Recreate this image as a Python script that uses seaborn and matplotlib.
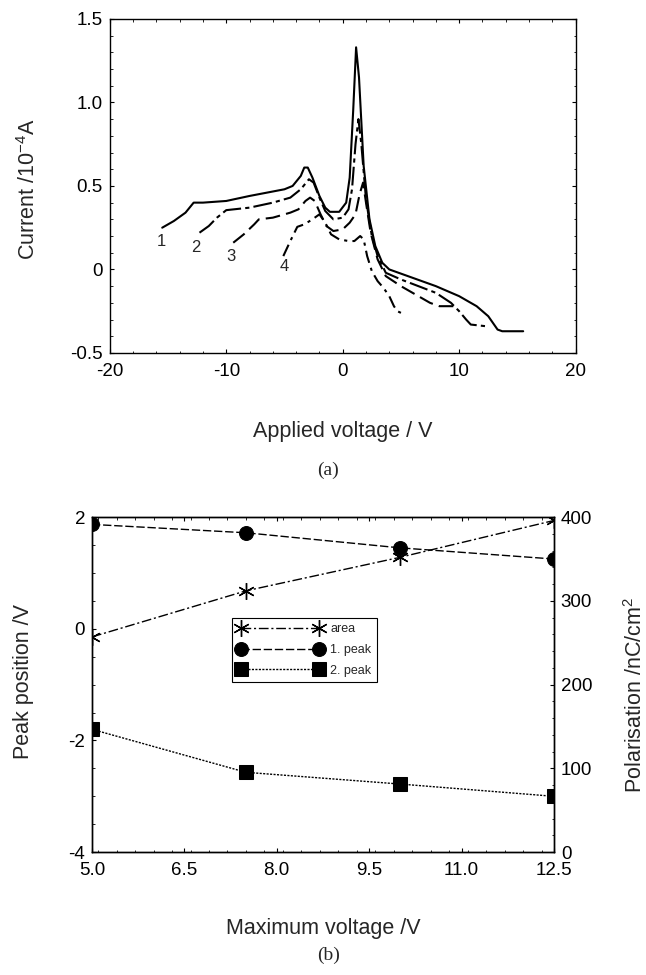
import matplotlib
matplotlib.use("Agg")
import matplotlib.pyplot as plt
import seaborn as sns
import pandas as pd
from matplotlib.ticker import MultipleLocator

# ---------------- data: panel (a) ----------------
c1_v = [-15.5, -14.5, -13.5, -12.8, -12.0, -10.0, -8.0, -6.5, -5.0, -4.3, -3.6, -3.3, -3.0, -2.6, -2.0, -1.5,
        -1.1, -0.3, 0.3, 0.6, 0.9, 1.15, 1.4, 1.8, 2.3, 2.8, 3.4, 4.0, 6.0, 8.0, 10.0, 11.5, 12.5, 13.3, 13.7, 15.5]
c1_i = [0.25, 0.29, 0.34, 0.40, 0.40, 0.41, 0.44, 0.46, 0.48, 0.50, 0.56, 0.61, 0.61, 0.55, 0.44, 0.37,
        0.345, 0.345, 0.40, 0.55, 0.95, 1.33, 1.15, 0.62, 0.30, 0.14, 0.04, 0.0, -0.05, -0.10, -0.16, -0.22, -0.28, -0.36, -0.37, -0.37]

c2_v = [-12.3, -11.5, -10.8, -10.0, -8.0, -6.0, -4.5, -3.6, -2.9, -2.5, -2.0, -1.5, -0.8, 0.0, 0.5, 0.8, 1.1,
        1.35, 1.6, 2.0, 2.5, 3.0, 3.7, 5.0, 6.5, 8.0, 9.3, 10.0, 10.6, 11.0, 12.3]
c2_i = [0.22, 0.26, 0.31, 0.355, 0.37, 0.40, 0.43, 0.48, 0.54, 0.52, 0.43, 0.35, 0.30, 0.31, 0.36, 0.48, 0.75,
        0.90, 0.75, 0.42, 0.20, 0.08, -0.02, -0.06, -0.10, -0.14, -0.20, -0.25, -0.30, -0.33, -0.34]

c3_v = [-9.4, -8.5, -7.6, -7.2, -6.0, -4.5, -3.8, -3.2, -2.8, -2.4, -1.9, -1.4, -0.8, 0.0, 0.6, 1.1, 1.45,
        1.75, 2.0, 2.4, 3.0, 3.7, 5.0, 6.5, 7.5, 8.3, 9.8]
c3_i = [0.16, 0.21, 0.27, 0.30, 0.31, 0.34, 0.36, 0.41, 0.43, 0.41, 0.33, 0.26, 0.23, 0.24, 0.28, 0.33, 0.45,
        0.52, 0.40, 0.22, 0.06, -0.04, -0.10, -0.16, -0.20, -0.22, -0.22]

c4_v = [-5.1, -4.5, -3.9, -3.3, -2.6, -2.0, -1.5, -1.0, -0.3, 0.5, 1.0, 1.5, 1.8, 2.1, 2.5, 3.0, 3.5, 4.0,
        4.4, 4.7, 5.0]
c4_i = [0.08, 0.17, 0.255, 0.27, 0.30, 0.33, 0.28, 0.21, 0.18, 0.17, 0.17, 0.20, 0.18, 0.08, -0.01, -0.07,
        -0.11, -0.16, -0.22, -0.25, -0.26]

curve_labels = ["1", "2", "3", "4"]
label_v = [-15.6, -12.6, -9.6, -5.05]
label_i = [0.17, 0.13, 0.08, 0.02]

# ---------------- data: panel (b) ----------------
max_voltage = [5.0, 7.5, 10.0, 12.5]
peak1 = [1.87, 1.72, 1.45, 1.25]
peak2 = [-1.80, -2.57, -2.78, -3.00]
area = [257, 312, 352, 396]

# ---------------- style ----------------
sns.set_style("white")
plt.rcParams["font.family"] = ["Liberation Sans", "DejaVu Sans"]
plt.rcParams["mathtext.default"] = "regular"
plt.rcParams["axes.unicode_minus"] = False
plt.rcParams["axes.edgecolor"] = "black"
plt.rcParams["axes.linewidth"] = 1.0

fig = plt.figure(figsize=(6.46, 9.75), dpi=100)

TICK_FS = 13.5
LABEL_FS = 15.5


def style_ticks(ax, right=True, top=True):
    ax.tick_params(which="both", direction="in", top=top, right=right, bottom=True, left=True,
                   colors="black", labelsize=TICK_FS)
    ax.tick_params(which="major", length=3, width=0.8)
    ax.tick_params(which="minor", length=1.8, width=0.6)
    ax.tick_params(axis="x", which="major", pad=7)
    ax.tick_params(axis="y", which="major", pad=5)


# ---------------- panel (a) ----------------
axa = fig.add_axes([0.170, 0.638, 0.721, 0.3426])
curves = [(c1_v, c1_i, "-"), (c2_v, c2_i, (0, (9, 2, 2, 2))),
          (c3_v, c3_i, (0, (7, 3))), (c4_v, c4_i, (0, (6, 2.5, 1.5, 2.5)))]
for v, i, ls in curves:
    df = pd.DataFrame({"v": v, "i": i})
    sns.lineplot(data=df, x="v", y="i", ax=axa, color="black", linewidth=1.5,
                 linestyle=ls, sort=False, estimator=None)
for lab, lv, li in zip(curve_labels, label_v, label_i):
    axa.text(lv, li, lab, fontsize=12, ha="center", va="center")

axa.set_xlim(-20, 20)
axa.set_ylim(-0.5, 1.5)
axa.set_xticks([-20, -10, 0, 10, 20])
axa.set_yticks([-0.5, 0, 0.5, 1.0, 1.5])
axa.set_yticklabels(["-0.5", "0", "0.5", "1.0", "1.5"])
axa.xaxis.set_minor_locator(MultipleLocator(2))
axa.yaxis.set_minor_locator(MultipleLocator(0.1))
style_ticks(axa)
axa.set_xlabel("Applied voltage / V", fontsize=LABEL_FS, va="center")
axa.xaxis.set_label_coords(0.5, -0.2365)
axa.set_ylabel("Current /10$^{-4}$A", fontsize=LABEL_FS, va="center")
axa.yaxis.set_label_coords(-0.174, 0.49)

fig.text(0.508, 0.518, "(a)", fontsize=14, family=["Liberation Serif"], ha="center", va="center")

# ---------------- panel (b) ----------------
axb = fig.add_axes([0.1424, 0.126, 0.715, 0.3436])
axr = axb.twinx()

dfb = pd.DataFrame({"Vmax": max_voltage, "p1": peak1, "p2": peak2, "area": area})
sns.lineplot(data=dfb, x="Vmax", y="p1", ax=axb, color="black", linewidth=1.0,
             linestyle=(0, (6, 2)), marker="o", markersize=10, markeredgecolor="black",
             label="1. peak", legend=False)
sns.lineplot(data=dfb, x="Vmax", y="p2", ax=axb, color="black", linewidth=1.0,
             linestyle=(0, (1.5, 1)), marker="s", markersize=10, markeredgecolor="black",
             label="2. peak", legend=False)
sns.lineplot(data=dfb, x="Vmax", y="area", ax=axr, color="black", linewidth=1.0,
             linestyle=(0, (7, 2, 1.5, 2)), marker=(6, 2, 0), markersize=12,
             markeredgewidth=1.0, markeredgecolor="black", label="area", legend=False)

axb.set_xlim(5.0, 12.5)
axb.set_ylim(-4, 2)
axr.set_ylim(0, 400)
axb.set_xticks([5.0, 6.5, 8.0, 9.5, 11.0, 12.5])
axb.set_xticklabels(["5.0", "6.5", "8.0", "9.5", "11.0", "12.5"])
axb.set_yticks([-4, -2, 0, 2])
axr.set_yticks([0, 100, 200, 300, 400])
axb.xaxis.set_minor_locator(MultipleLocator(0.3))
axb.yaxis.set_minor_locator(MultipleLocator(0.5))
axr.yaxis.set_minor_locator(MultipleLocator(20))
style_ticks(axb, right=False, top=True)
axr.tick_params(which="both", direction="in", right=True, labelsize=TICK_FS, colors="black")
axr.tick_params(which="major", length=3, width=0.8, pad=5)
axr.tick_params(which="minor", length=1.8, width=0.6)

axb.set_xlabel("Maximum voltage /V", fontsize=LABEL_FS, va="center")
axb.xaxis.set_label_coords(0.5, -0.227)
axb.set_ylabel("Peak position /V", fontsize=LABEL_FS, va="center")
axb.yaxis.set_label_coords(-0.148, 0.51)
axr.set_ylabel("Polarisation /nC/cm$^{2}$", fontsize=LABEL_FS, va="center", rotation=90)
axr.yaxis.set_label_coords(1.176, 0.47)

h1, l1 = axb.get_legend_handles_labels()
h2, l2 = axr.get_legend_handles_labels()
handles = h2 + h1
labels = l2 + l1
leg = axr.legend(handles, labels, loc="upper left", bbox_to_anchor=(0.303, 0.70),
                 fontsize=9, numpoints=2, handlelength=6.8, frameon=True, fancybox=False,
                 edgecolor="black", framealpha=1.0, borderpad=0.45, labelspacing=0.7,
                 handletextpad=0.6, borderaxespad=0.0)
leg.get_frame().set_linewidth(0.8)

fig.text(0.508, 0.0205, "(b)", fontsize=14, family=["Liberation Serif"], ha="center", va="center")

fig.savefig("out.png", dpi=100)
